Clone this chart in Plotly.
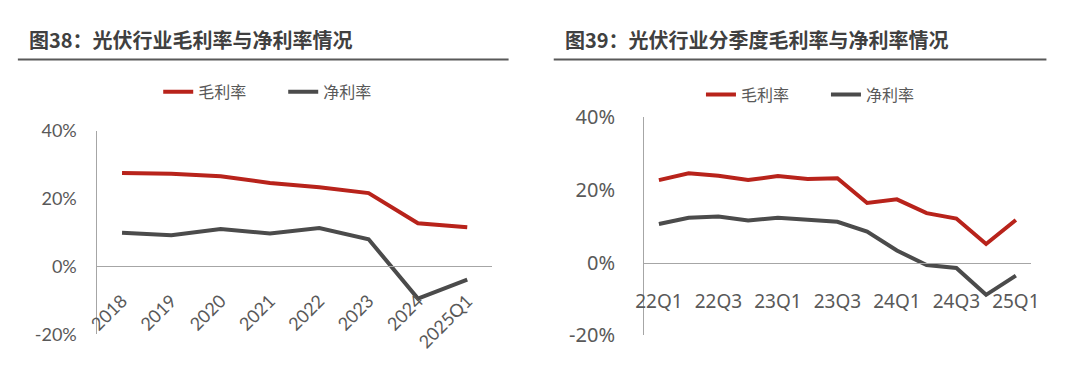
import plotly.graph_objects as go

# ---------------- data ----------------
years = ["2018", "2019", "2020", "2021", "2022", "2023", "2024", "2025Q1"]
gross_annual = [27.5, 27.3, 26.6, 24.6, 23.3, 21.6, 12.7, 11.5]
net_annual = [9.9, 9.2, 11.0, 9.7, 11.3, 8.0, -9.5, -3.9]

quarters = ["22Q1", "22Q2", "22Q3", "22Q4", "23Q1", "23Q2", "23Q3",
            "23Q4", "24Q1", "24Q2", "24Q3", "24Q4", "25Q1"]
gross_q = [22.7, 24.6, 23.9, 22.7, 23.8, 23.0, 23.2, 16.4, 17.4, 13.6, 12.1, 5.1, 11.7]
net_q = [10.6, 12.3, 12.7, 11.6, 12.3, 11.8, 11.2, 8.5, 3.3, -0.7, -1.5, -8.9, -3.6]
quarter_ticks = quarters[::2]

y_ticks = [-20, 0, 20, 40]
y_tick_text = ["-20%", "0%", "20%", "40%"]
title_left = "图38：光伏行业毛利率与净利率情况"
title_right = "图39：光伏行业分季度毛利率与净利率情况"
name_gross = "毛利率"
name_net = "净利率"

# ---------------- style ----------------
W, H = 1078, 366
RED = "#B8231B"
GRAY = "#4B4B4B"
AXIS = "#A6A6A6"
TICK = "#595959"
CJK = "Noto Sans CJK SC"


def px_x(v):
    return v / W


def px_y(v):
    return 1 - v / H


# plot areas (pixels)
L_x0, L_x1, L_top, L_bot = 88, 490, 126, 345.7
R_x0, R_x1, R_top, R_bot = 645, 1039, 111.5, 346.7

yr = [-20, 40]

fig = go.Figure()
fig.add_trace(go.Scatter(x=years, y=gross_annual, name=name_gross, mode="lines",
                         line=dict(color=RED, width=4), xaxis="x", yaxis="y",
                         legend="legend"))
fig.add_trace(go.Scatter(x=years, y=net_annual, name=name_net, mode="lines",
                         line=dict(color=GRAY, width=4), xaxis="x", yaxis="y",
                         legend="legend"))
fig.add_trace(go.Scatter(x=quarters, y=gross_q, name=name_gross, mode="lines",
                         line=dict(color=RED, width=4), xaxis="x2", yaxis="y2",
                         legend="legend2"))
fig.add_trace(go.Scatter(x=quarters, y=net_q, name=name_net, mode="lines",
                         line=dict(color=GRAY, width=4), xaxis="x2", yaxis="y2",
                         legend="legend2"))

ldom = [px_y(L_bot), px_y(L_top)]
rdom = [px_y(R_bot), px_y(R_top)]
l_zero = ldom[0] + (0 - yr[0]) / (yr[1] - yr[0]) * (ldom[1] - ldom[0])
r_zero = rdom[0] + (0 - yr[0]) / (yr[1] - yr[0]) * (rdom[1] - rdom[0])

fig.update_layout(
    width=W, height=H,
    margin=dict(l=0, r=0, t=0, b=0),
    paper_bgcolor="white", plot_bgcolor="white",
    font=dict(family=CJK, color=TICK),
    xaxis=dict(domain=[px_x(L_x0), px_x(L_x1)], type="category",
               range=[-0.5, len(years) - 0.5], anchor="free", position=l_zero,
               showline=True, linecolor=AXIS, linewidth=1, showgrid=False,
               tickangle=-45, ticks="outside", ticklen=16, tickcolor="rgba(0,0,0,0)",
               tickfont=dict(family="Lato", size=18, color=TICK), zeroline=False),
    yaxis=dict(domain=ldom, range=yr, tickvals=y_ticks, ticktext=y_tick_text,
               showline=True, linecolor=AXIS, linewidth=1, showgrid=False,
               zeroline=False, anchor="x", ticks="outside", ticklen=16,
               tickcolor="rgba(0,0,0,0)",
               tickfont=dict(family="Lato", size=18, color=TICK)),
    xaxis2=dict(domain=[px_x(R_x0), px_x(R_x1)], type="category",
                range=[-0.5, len(quarters) - 0.5], anchor="free", position=r_zero,
                showline=True, linecolor=AXIS, linewidth=1, showgrid=False,
                tickvals=quarter_ticks, tickangle=0, ticks="outside", ticklen=22,
                tickcolor="rgba(0,0,0,0)",
                tickfont=dict(family="Noto Sans", size=19, color=TICK), zeroline=False),
    yaxis2=dict(domain=rdom, range=yr, tickvals=y_ticks, ticktext=y_tick_text,
                showline=True, linecolor=AXIS, linewidth=1, showgrid=False,
                zeroline=False, anchor="x2", ticks="outside", ticklen=24,
                tickcolor="rgba(0,0,0,0)",
                tickfont=dict(family="Noto Sans", size=20, color=TICK)),
    legend=dict(orientation="h", x=px_x(150), y=px_y(84), xanchor="left",
                yanchor="middle", font=dict(family=CJK, size=16, color=TICK),
                entrywidth=80, bgcolor="rgba(0,0,0,0)"),
    legend2=dict(orientation="h", x=px_x(703), y=px_y(87), xanchor="left",
                 yanchor="middle", font=dict(family=CJK, size=16, color=TICK),
                 entrywidth=80, bgcolor="rgba(0,0,0,0)"),
    showlegend=True,
)

# titles
fig.add_annotation(text="<b>" + title_left + "</b>", xref="paper", yref="paper",
                   x=px_x(16), y=px_y(28), xanchor="left", yanchor="middle",
                   showarrow=False, font=dict(family=CJK, size=20, color="#404040"))
fig.add_annotation(text="<b>" + title_right + "</b>", xref="paper", yref="paper",
                   x=px_x(562), y=px_y(28), xanchor="left", yanchor="middle",
                   showarrow=False, font=dict(family=CJK, size=20, color="#404040"))
# title underlines
fig.add_shape(type="line", xref="paper", yref="paper", x0=px_x(7), x1=px_x(507),
              y0=px_y(49), y1=px_y(49), line=dict(color="#595959", width=2))
fig.add_shape(type="line", xref="paper", yref="paper", x0=px_x(553), x1=px_x(1055),
              y0=px_y(49), y1=px_y(49), line=dict(color="#595959", width=2))

fig.write_html("out.html",
               config={"displayModeBar": False},
               post_script="document.body.style.margin='0';document.body.style.overflow='hidden';")
